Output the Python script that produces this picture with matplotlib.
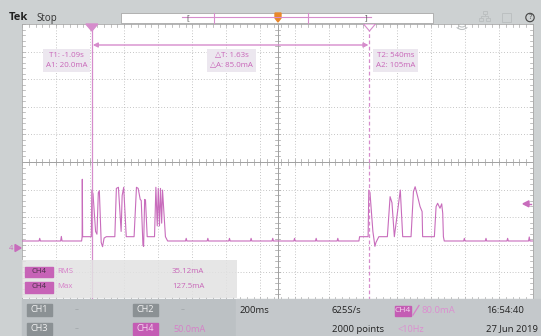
import matplotlib.pyplot as plt
from matplotlib.patches import Rectangle, Polygon, Circle, Arc

plt.rcParams['font.family'] = ['Open Sans', 'DejaVu Sans']

# ---- scope settings ----
t_div = 0.2            # 200ms/div, 15 divisions
i_div = 50.0           # 50.0mA/div, 10 divisions
t_left = -1.5
i_bottom = -94.2       # current at bottom of graticule
t1, t2 = -1.09, 0.54
a1, a2 = 20.0, 105.0
trig_level = 80.0
base_level = 12.7

# small idle bumps on the baseline
bump_t = [-1.396, -1.269, -0.536, -0.409, -0.282, -0.155, -0.028, 0.100,
          0.227, 0.354, 1.097, 1.224, 1.351, 1.478]
bump_i = [17.5, 21.0, 17.5, 17.5, 17.5, 17.5, 17.5, 17.5, 17.5, 17.5,
          17.5, 17.5, 17.5, 20.0]

# first burst
b1_t = [-1.150, -1.147, -1.146, -1.144, -1.093, -1.090, -1.083, -1.068, -1.060,
        -1.052, -1.046, -1.035, -1.027, -1.018, -1.005, -0.955, -0.946, -0.934,
        -0.918, -0.912, -0.903, -0.888, -0.842, -0.828, -0.818, -0.806, -0.800,
        -0.790, -0.786, -0.780, -0.775, -0.765, -0.722, -0.714, -0.706, -0.700,
        -0.693, -0.687, -0.680, -0.675, -0.658, -0.645]
b1_i = [12.7, 20.5, 124.5, 20.5, 20.5, 105.0, 98.0, 30.0, 25.0,
        100.0, 104.0, 10.0, 2.4, 18.0, 20.5, 20.5, 108.0, 110.0,
        30.0, 95.0, 110.0, 20.5, 20.5, 110.0, 108.0, 88.0, 86.0,
        5.0, 3.0, 88.0, 87.0, 20.5, 20.5, 110.0, 40.0, 108.0,
        40.0, 108.0, 45.0, 105.0, 20.5, 12.7]

# second burst
b2_t = [0.478, 0.482, 0.532, 0.536, 0.543, 0.560, 0.572, 0.578, 0.595, 0.645,
        0.661, 0.672, 0.686, 0.721, 0.735, 0.784, 0.798, 0.808, 0.823, 0.837,
        0.849, 0.852, 0.921, 0.931, 0.940, 0.954, 0.964, 0.970, 0.974, 0.979]
b2_i = [12.7, 20.5, 20.5, 105.0, 100.0, 30.0, 3.0, 10.0, 20.5, 20.5,
        93.0, 82.0, 20.5, 105.0, 20.5, 20.5, 102.0, 111.0, 93.0, 75.0,
        66.0, 20.5, 20.5, 75.0, 81.0, 72.0, 80.0, 63.0, 20.5, 12.7]

meas_names = ['RMS', 'Max']
meas_values = ['35.12mA', '127.5mA']

GREY = '#cdd1d2'
PANEL = '#bcc1c4'
PINK = '#c86cbc'
CUR = '#d68ccc'
TXT = '#c865b8'
GRID = '#b2b2b2'

# pixel geometry of the graticule
GX0, GX1, GY0, GY1 = 22, 533, 24, 300


def tx(t):
    return GX0 + (t - t_left) / (15 * t_div) * (GX1 - GX0)


def iy(i):
    return GY1 - (i - i_bottom) / (10 * i_div) * (GY1 - GY0)


fig = plt.figure(figsize=(5.41, 3.36), dpi=100)
bg = fig.add_axes([0, 0, 1, 1])
bg.set_xlim(0, 541)
bg.set_ylim(336, 0)
bg.axis('off')
bg.add_patch(Rectangle((0, 0), 541, 336, color=GREY))

scope = fig.add_axes([GX0 / 541, 1 - GY1 / 336, (GX1 - GX0) / 541, (GY1 - GY0) / 336])
scope.set_xlim(t_left, t_left + 15 * t_div)
scope.set_ylim(i_bottom, i_bottom + 10 * i_div)
scope.set_facecolor('white')
scope.set_xticks([])
scope.set_yticks([])
for s in scope.spines.values():
    s.set_color('#a8a8a8')
    s.set_linewidth(0.6)

# graticule
for k in range(1, 15):
    scope.axvline(t_left + k * t_div, color=GRID, lw=0.6, ls=(0, (1, 2.4)))
for k in range(1, 10):
    scope.axhline(i_bottom + k * i_div, color=GRID, lw=0.6, ls=(0, (1, 2.4)))
t_mid = t_left + 7.5 * t_div
i_mid = i_bottom + 5 * i_div
scope.axvline(t_mid, color='#a0a0a0', lw=0.7)
scope.axhline(i_mid, color='#a0a0a0', lw=0.7)
dt_tick = 2.5 / 170.3
di_tick = 2.5 * 1.812
for k in range(76):
    t = t_left + k * t_div / 5
    scope.plot([t, t], [i_mid - di_tick, i_mid + di_tick], color='#a0a0a0', lw=0.5)
    scope.plot([t, t], [i_bottom + 10 * i_div - di_tick, i_bottom + 10 * i_div], color='#a8a8a8', lw=0.5)
    scope.plot([t, t], [i_bottom, i_bottom + di_tick], color='#a8a8a8', lw=0.5)
for k in range(51):
    i = i_bottom + k * i_div / 5
    scope.plot([t_mid - dt_tick, t_mid + dt_tick], [i, i], color='#a0a0a0', lw=0.5)
    scope.plot([t_left, t_left + dt_tick], [i, i], color='#a8a8a8', lw=0.5)
    scope.plot([-t_left - dt_tick, -t_left], [i, i], color='#a8a8a8', lw=0.5)

# trace
pts = [(t_left, base_level), (-t_left, base_level)]
for t, i in zip(bump_t, bump_i):
    pts += [(t - 0.004, base_level), (t, i), (t + 0.004, base_level)]
pts += list(zip(b1_t, b1_i)) + list(zip(b2_t, b2_i))
pts.sort()
scope.plot([p[0] for p in pts], [p[1] for p in pts], color=PINK, lw=0.8, zorder=4)

# cursors
scope.axvline(t1, color=CUR, lw=0.9, zorder=5)
scope.axvline(t2, color=CUR, lw=0.9, ls=(0, (3, 2)), zorder=5)

# ---- overlay in pixel coordinates ----
ov = fig.add_axes([0, 0, 1, 1], zorder=5)
ov.set_xlim(0, 541)
ov.set_ylim(336, 0)
ov.axis('off')
ov.patch.set_alpha(0)

x1, x2 = tx(t1), tx(t2)
ov.annotate('', xy=(x1 + 1, 45), xytext=(x2 - 1, 45),
            arrowprops=dict(arrowstyle='<|-|>', color=CUR, lw=1.0,
                            mutation_scale=7, shrinkA=0, shrinkB=0))
ov.add_patch(Polygon([[x1 - 6, 24], [x1 + 6, 24], [x1, 31]], closed=True, color=CUR))
ov.add_patch(Polygon([[x2 - 6, 24], [x2 + 6, 24], [x2, 31]], closed=True,
                     fc='white', ec=CUR, lw=0.8))

box = dict(boxstyle='square,pad=0.35', fc='#ece7ef', ec='none')
ov.text((x1 - 25), 60.5, 'T1: %.2fs\nA1: %.1fmA' % (t1, a1), fontsize=5.7,
        color=TXT, ha='center', va='center', linespacing=1.6, bbox=box)
ov.text((x1 + x2) / 2 + 1, 60.5,
        '△T: %.2fs\n△A: %.1fmA' % (t2 - t1, a2 - a1), fontsize=5.7,
        color=TXT, ha='center', va='center', linespacing=1.6, bbox=box)
ov.text(x2 + 26, 60.5, 'T2: %dms\nA2: %dmA' % (round(t2 * 1000), a2), fontsize=5.7,
        color=TXT, ha='center', va='center', linespacing=1.6, bbox=box)

# level markers
yt = iy(trig_level)
ov.add_patch(Polygon([[523, yt], [529, yt - 3], [529, yt + 3]], closed=True, color=PINK))
ov.plot([526, 531], [yt, yt], color=PINK, lw=1)
y0 = iy(0)
ov.text(11, y0, '4', fontsize=5.5, color=PINK, ha='center', va='center')
ov.add_patch(Polygon([[15, y0 - 3.5], [15, y0 + 3.5], [21, y0]], closed=True, color=PINK))

# top bar
ov.text(9, 18, 'Tek', fontsize=8, fontweight='bold', color='#222222', va='center')
ov.text(36, 18.5, 'Stop', fontsize=7, color='#333333', va='center')
ov.add_patch(Rectangle((121, 12.5), 312, 10.5, fc='white', ec='#a8a8a8', lw=0.6))
ov.plot([182, 371], [17, 17], color=CUR, lw=0.8)
for xb in (214, 308):
    ov.plot([xb, xb], [13, 22.5], color=CUR, lw=0.8)
ov.text(188, 17.5, '[', fontsize=6, color='#555555', ha='center', va='center')
ov.text(366, 17.5, ']', fontsize=6, color='#555555', ha='center', va='center')
ov.add_patch(Polygon([[275, 13], [281, 13], [281, 18], [278, 22], [275, 18]],
                     closed=True, color='#e8872a'))
# greyed icons
for r in (2.5, 5, 7.5):
    ov.add_patch(Arc((462, 22), 2 * r, 2 * r, theta1=45, theta2=135, color='#bcc0c1', lw=0.8))
ov.add_patch(Rectangle((482.5, 11), 4, 3, fc='none', ec='#bcc0c1', lw=0.7))
ov.add_patch(Rectangle((479, 18), 4, 3, fc='none', ec='#bcc0c1', lw=0.7))
ov.add_patch(Rectangle((486, 18), 4, 3, fc='none', ec='#bcc0c1', lw=0.7))
ov.plot([484.5, 484.5, 481, 481], [14, 16, 16, 18], color='#bcc0c1', lw=0.7)
ov.plot([484.5, 488, 488], [16, 16, 18], color='#bcc0c1', lw=0.7)
ov.add_patch(Rectangle((502, 13), 9, 9, fc='none', ec='#bcc0c1', lw=0.7))
ov.add_patch(Circle((530, 17.5), 4.2, fc='none', ec='#444444', lw=0.8))
ov.text(530, 17.8, '?', fontsize=5.5, color='#444444', ha='center', va='center')

# measurement box
ov.add_patch(Rectangle((GX0, 260), 215, 38, fc='#e2e2e2', ec='none', alpha=0.85))
for k, (name, val) in enumerate(zip(meas_names, meas_values)):
    yc = 271.5 + k * 15.5
    ov.add_patch(Rectangle((25, yc - 5), 28, 10.5, color='#c763b7'))
    ov.text(39, yc, 'CH4', fontsize=5.6, color='#4a2f47', ha='center', va='center')
    ov.text(57, yc, name, fontsize=5.6, color='#d77fc9', va='center')
    ov.text(172, yc, val, fontsize=5.7, color='#c865b8', va='center')

# bottom panel
ov.add_patch(Rectangle((GX0, 299), 213, 37, color=PANEL))
ov.add_patch(Rectangle((236, 299), 243, 37, color='#c4c8cb'))
ov.add_patch(Rectangle((480, 299), 61, 37, color='#c4c8cb'))


def badge(x, y, label, fc, tc, w=25, h=12, fs=6.6):
    ov.add_patch(Rectangle((x, y - h / 2), w, h, color=fc))
    ov.text(x + w / 2, y, label, fontsize=fs, color=tc, ha='center', va='center')


badge(27, 309.5, 'CH1', '#8b9194', '#f0f0f0')
badge(133, 309.5, 'CH2', '#8b9194', '#f0f0f0')
badge(27, 328.5, 'CH3', '#8b9194', '#f0f0f0')
badge(133, 328.5, 'CH4', '#c45cb4', '#f3d6ee')
ov.text(75, 310, '--', fontsize=5.5, color='#9aa0a3', va='center')
ov.text(181, 310, '--', fontsize=5.5, color='#9aa0a3', va='center')
ov.text(75, 329, '--', fontsize=5.5, color='#9aa0a3', va='center')
ov.text(173, 329, '%.1fmA' % i_div, fontsize=6.6, color='#d680c8', va='center')

ov.text(240, 310.5, '%dms' % round(t_div * 1000), fontsize=6.8, color='#222222', va='center')
ov.text(332, 310.5, '625S/s', fontsize=6.8, color='#222222', va='center')
ov.text(332, 329, '2000 points', fontsize=6.8, color='#222222', va='center')
badge(395, 310.5, 'CH4', '#c45cb4', '#f3d6ee', w=16, h=10, fs=6)
ov.plot([413, 419], [315, 305.5], color='#d680c8', lw=0.9)
ov.text(422, 310.5, '%.1fmA' % trig_level, fontsize=6.8, color='#dc8ed0', va='center')
ov.text(398, 329, '<10Hz', fontsize=6.6, color='#dc8ed0', va='center')
ov.text(486, 310.5, '16:54:40', fontsize=6.8, color='#222222', va='center')
ov.text(486, 329, '27 Jun 2019', fontsize=6.8, color='#222222', va='center')

fig.savefig('out.png', dpi=100)
